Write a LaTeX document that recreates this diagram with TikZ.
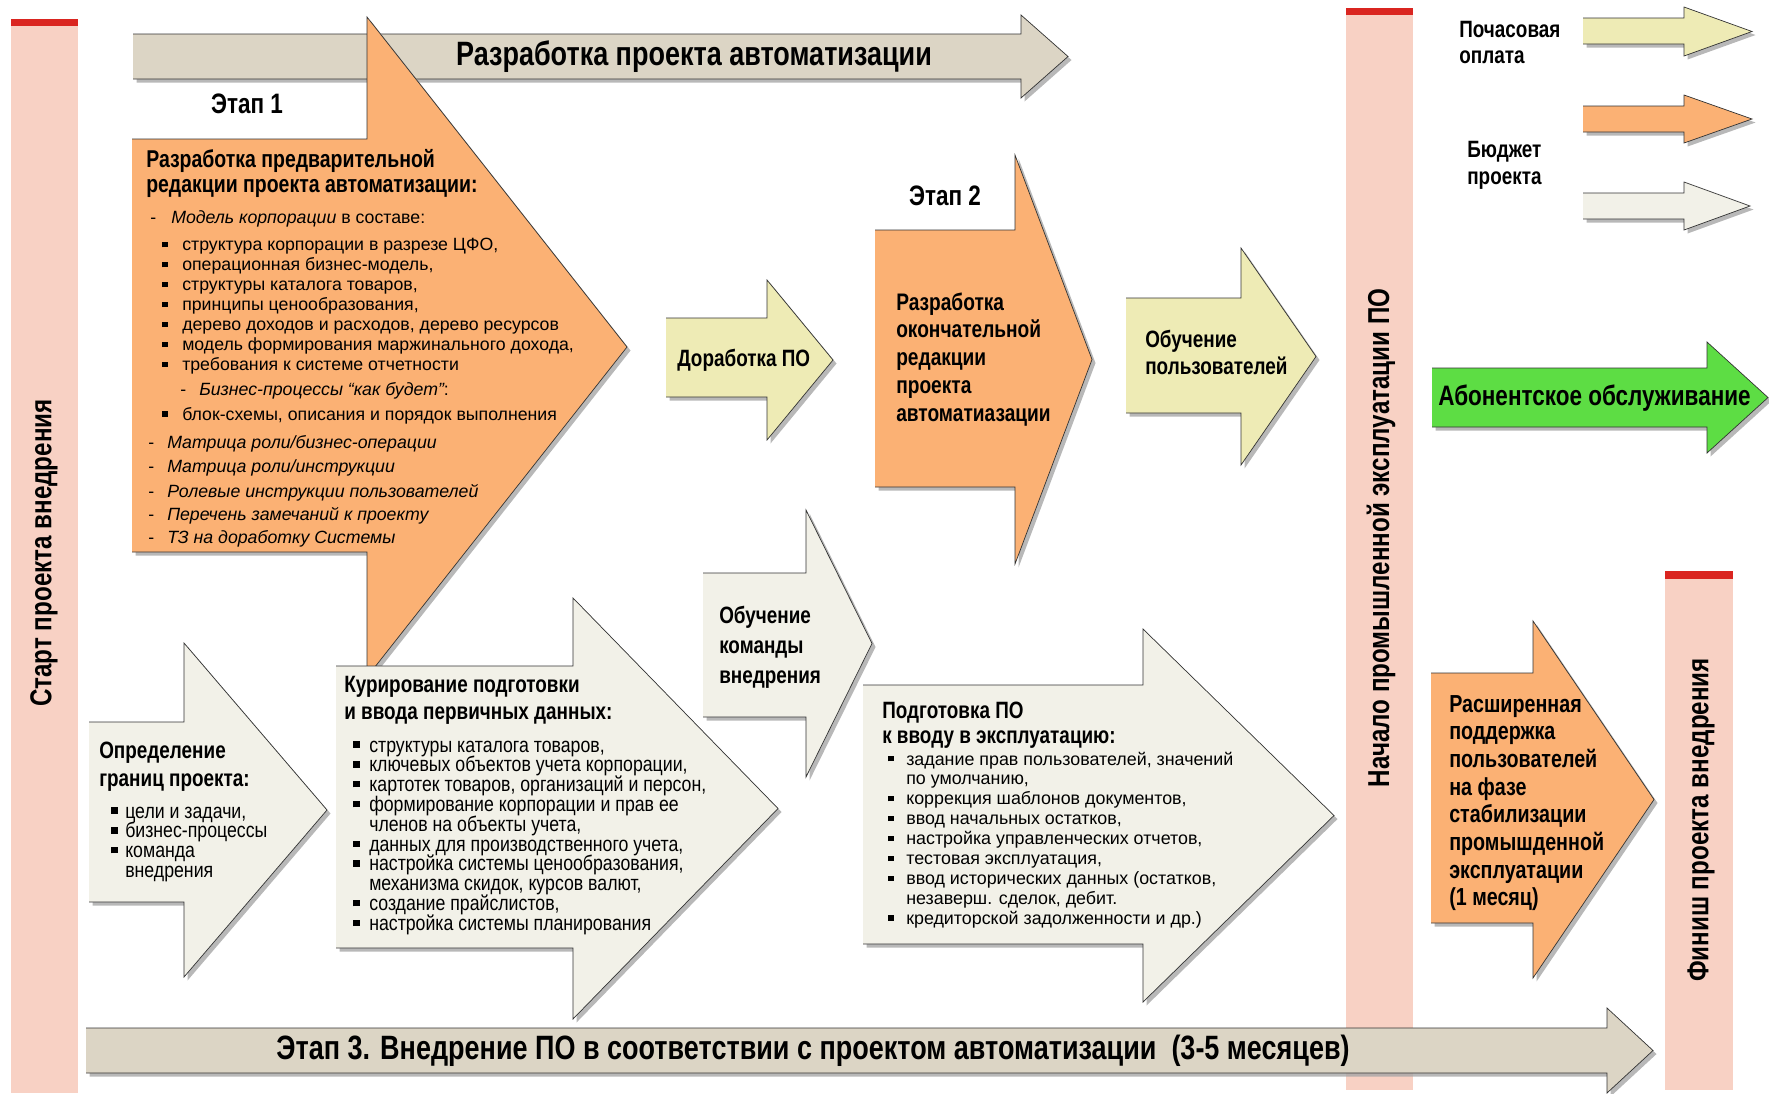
\documentclass[tikz,border=0pt]{standalone}
\usepackage{fontspec}
\setmainfont{Liberation Sans}
\newfontfamily\cnd[FakeStretch=0.8]{Liberation Sans}
\newfontfamily\cndr[FakeStretch=0.84]{Liberation Sans}
\usetikzlibrary{positioning, shadows}
\definecolor{barpink}{RGB}{248,209,196}
\definecolor{capred}{RGB}{218,37,32}
\definecolor{bannergray}{RGB}{220,213,197}
\definecolor{stageorange}{RGB}{251,177,116}
\definecolor{paleyellow}{RGB}{238,235,181}
\definecolor{paleivory}{RGB}{242,241,232}
\definecolor{subgreen}{RGB}{93,221,68}
\newlength\px
\setlength\px{0.025cm}
% text lines, baseline of the first line is the node base
\newcommand\rows[1]{\begin{minipage}[t]{14cm}\raggedright\lineskiplimit=-20pt #1\end{minipage}}
% list marks: offset of mark, distance to text
\newcommand\dsh[2]{\hspace*{#1\px}\makebox[#2\px][l]{-}}
\newcommand\bul[2]{\hspace*{#1\px}\makebox[#2\px][l]{\rule[0.2em]{0.3em}{0.3em}}}
% block arrow: style, x left, x head, x tip, y top, y bottom, y head top, y head bottom
\newcommand\blockarrow[8]{%
  \fill[#1, drop shadow={shadow xshift=2.5pt, shadow yshift=-2.5pt, fill=black!35, opacity=0.8}]
    (#2,#5) -- (#3,#5) -- (#3,#7) -- (#4,{(#7+#8)/2}) -- (#3,#8) -- (#3,#6) -- (#2,#6) -- cycle;
  \draw[outline] (#2,#5) -- (#3,#5) -- (#3,#7) -- (#4,{(#7+#8)/2}) -- (#3,#8) -- (#3,#6) -- (#2,#6);
}
\tikzset{
  outline/.style={draw=black!80, line width=0.5pt, line join=miter},
  bartext/.style={font=\cnd\bfseries\fontsize{21.5}{24}\selectfont, inner sep=0pt},
  bighead/.style={font=\cnd\bfseries\fontsize{24}{28}\selectfont, inner sep=0pt},
  ttl/.style={font=\cnd\bfseries\fontsize{16.8}{#1}\selectfont, anchor=base west, inner sep=0pt},
  ttl/.default=19.8pt,
  lst/.style={font=\fontsize{12.6}{14.17pt}\selectfont, anchor=base west, inner sep=0pt},
  clst/.style={font=\cndr\fontsize{15}{14.1pt}\selectfont, anchor=base west, inner sep=0pt},
}
\begin{document}
\begin{tikzpicture}[x=0.025cm, y=-0.025cm]
  \useasboundingbox (0,0) rectangle (1769,1093);
  % milestone bars
  \fill[barpink] (11,19) rectangle (78,1093);
  \fill[capred] (11,19) rectangle (78,26);
  \fill[barpink] (1346,8) rectangle (1413,1090);
  \fill[capred] (1346,8) rectangle (1413,15);
  \fill[barpink] (1665,571) rectangle (1733,1090);
  \fill[capred] (1665,571) rectangle (1733,579);
  \node[bartext, rotate=90] (startlbl) at (44,553) {Старт проекта внедрения};
  \node[bartext, rotate=90] (prodlbl) at (1381,538) {Начало промышленной эксплуатации ПО};
  \node[bartext, rotate=90] (finishlbl) at (1701,820) {Финиш проекта внедрения};

  % stage banners
  \blockarrow{fill=bannergray}{133}{1021}{1068}{34}{79}{15}{98}
  \node[bighead] (bannertop) at (694,57) {Разработка проекта автоматизации};
  \blockarrow{fill=bannergray}{86}{1607}{1653}{1028}{1073}{1008}{1093}
  \node[bighead] (bannerbot) at (813,1051) {Этап 3. Внедрение ПО в соответствии с проектом автоматизации\ \ (3-5 месяцев)};

  % stage 1
  \blockarrow{fill=stageorange}{132}{367}{627}{139}{552}{17}{677}
  \node[ttl, anchor=center, font=\cnd\bfseries\fontsize{20}{24}\selectfont] (stage1) at (247,104) {Этап 1};
  \node[ttl, font=\cnd\bfseries\fontsize{17.3}{18.4}\selectfont] (s1title) at (146,167) {\rows{Разработка предварительной\\редакции проекта автоматизации:}};
  \node[lst] (s1list) at (148,223) {\rows{%
    \dsh{2}{21}{\itshape Модель корпорации} в составе:\\[8\px]
    \bul{14}{20}структура корпорации в разрезе ЦФО,\\
    \bul{14}{20}операционная бизнес-модель,\\
    \bul{14}{20}структуры каталога товаров,\\
    \bul{14}{20}принципы ценообразования,\\
    \bul{14}{20}дерево доходов и расходов, дерево ресурсов\\
    \bul{14}{20}модель формирования маржинального дохода,\\
    \bul{14}{20}требования к системе отчетности\\[5\px]
    \dsh{32}{19}{\itshape Бизнес-процессы “как будет”}:\\[5\px]
    \bul{14}{20}блок-схемы, описания и порядок выполнения\\[8\px]
    \dsh{0}{19}{\itshape Матрица роли/бизнес-операции}\\[4\px]
    \dsh{0}{19}{\itshape Матрица роли/инструкции}\\[5\px]
    \dsh{0}{19}{\itshape Ролевые инструкции пользователей}\\[3\px]
    \dsh{0}{19}{\itshape Перечень замечаний к проекту}\\[4\px]
    \dsh{0}{19}{\itshape ТЗ на доработку Системы}}};

  % stage 2 row
  \blockarrow{fill=paleyellow}{666}{767}{833}{318}{397}{280}{440}
  \node[ttl] (dorab) at (677,366) {Доработка ПО};
  \blockarrow{fill=stageorange}{875}{1015}{1092}{230}{487}{155}{564}
  \node[ttl, anchor=center, font=\cnd\bfseries\fontsize{20}{24}\selectfont] (stage2) at (945,196) {Этап 2};
  \node[ttl, font=\cnd\bfseries\fontsize{17}{19.9}\selectfont] (s2title) at (896,310) {\rows{Разработка\\окончательной\\редакции\\проекта\\автоматиазации}};
  \blockarrow{fill=paleyellow}{1126}{1241}{1316}{298}{413}{248}{465}
  \node[ttl] (usertrain) at (1145,347) {\rows{Обучение\\пользователей}};

  % payment legend
  \node[ttl=19.1pt] (hourly) at (1459,37) {\rows{Почасовая\\оплата}};
  \blockarrow{fill=paleyellow}{1583}{1684}{1752}{18}{44}{7}{56}
  \blockarrow{fill=stageorange}{1583}{1684}{1752}{106}{132}{95}{143}
  \node[ttl=19.8pt] (budget) at (1467,157) {\rows{Бюджет\\проекта}};
  \blockarrow{fill=paleivory}{1583}{1684}{1750}{193}{219}{182}{230}
  \blockarrow{fill=subgreen}{1432}{1707}{1768}{368}{427}{342}{453}
  \node[ttl, font=\cnd\bfseries\fontsize{20}{22}\selectfont] (subscr) at (1438,405) {Абонентское обслуживание};

  % stage 3 row
  \blockarrow{fill=paleivory}{89}{184}{327}{722}{902}{643}{977}
  \node[ttl=20.5pt] (scope) at (99,758) {\rows{Определение\\границ проекта:}};
  \node[clst] (scopelist) at (111,818) {\rows{%
    \bul{0}{14}цели и задачи,\\
    \bul{0}{14}бизнес-процессы\\
    \bul{0}{14}команда\\
    \hspace*{14\px}внедрения}};
  \blockarrow{fill=paleivory}{336}{573}{778}{666}{948}{598}{1019}
  \node[ttl] (datatitle) at (344,692) {\rows{Курирование подготовки\\и ввода первичных данных:}};
  \node[clst] (datalist) at (353,752) {\rows{%
    \bul{0}{16}структуры каталога товаров,\\
    \bul{0}{16}ключевых объектов учета корпорации,\\
    \bul{0}{16}картотек товаров, организаций и персон,\\
    \bul{0}{16}формирование корпорации и прав ее\\
    \hspace*{16\px}членов на объекты учета,\\
    \bul{0}{16}данных для производственного учета,\\
    \bul{0}{16}настройка системы ценообразования,\\
    \hspace*{16\px}механизма скидок, курсов валют,\\
    \bul{0}{16}создание прайслистов,\\
    \bul{0}{16}настройка системы планирования}};
  \blockarrow{fill=paleivory}{703}{806}{872}{573}{717}{510}{777}
  \node[ttl=21.5pt] (teamtrain) at (719,623) {\rows{Обучение\\команды\\внедрения}};
  \blockarrow{fill=paleivory}{863}{1143}{1334}{685}{944}{629}{1002}
  \node[ttl=18.4pt] (golive) at (882,718) {\rows{Подготовка ПО\\к вводу в эксплуатацию:}};
  \node[lst, font=\fontsize{12.7}{14.17pt}\selectfont] (golivelist) at (888,765) {\rows{%
    \bul{0}{18}задание прав пользователей, значений\\
    \hspace*{18\px}по умолчанию,\\
    \bul{0}{18}коррекция шаблонов документов,\\
    \bul{0}{18}ввод начальных остатков,\\
    \bul{0}{18}настройка управленческих отчетов,\\
    \bul{0}{18}тестовая эксплуатация,\\
    \bul{0}{18}ввод исторических данных (остатков,\\
    \hspace*{18\px}незаверш. сделок, дебит.\\
    \bul{0}{18}кредиторской задолженности и др.)}};
  \blockarrow{fill=stageorange}{1431}{1533}{1654}{673}{923}{621}{978}
  \node[ttl, font=\cnd\bfseries\fontsize{17.5}{19.7}\selectfont] (support) at (1449,712) {\rows{Расширенная\\поддержка\\пользователей\\на фазе\\стабилизации\\промышденной\\эксплуатации\\(1 месяц)}};
\end{tikzpicture}
\end{document}
